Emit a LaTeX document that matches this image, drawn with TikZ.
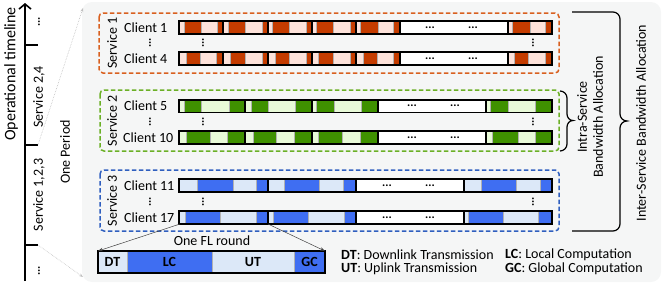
\documentclass[tikz,border=0pt]{standalone}
\usepackage{fontspec}
\setmainfont{Carlito}
\usetikzlibrary{arrows.meta}
\definecolor{odk}{HTML}{C43C00}
\definecolor{olt}{HTML}{FDE2DA}
\definecolor{odash}{HTML}{D9601F}
\definecolor{gdk}{HTML}{3F9100}
\definecolor{glt}{HTML}{E8FAD8}
\definecolor{gdash}{HTML}{6BB026}
\definecolor{bdk}{HTML}{3F6EF2}
\definecolor{blt}{HTML}{DCE8F8}
\definecolor{bdash}{HTML}{2F5FBF}
\definecolor{panelc}{HTML}{F5F6F6}
\newcommand\segrow[3]{\foreach \xa/\xb/\segc in {#3}{\filldraw[fill=\segc,draw=gray!60,line width=0.5pt] (\xa,#1) rectangle (\xb,#2);}}
\newcommand\seprow[3]{\foreach \xs in {#3}{\draw[line width=1.4pt] (\xs,#1) -- (\xs,#2);}\draw[line width=1.4pt] (179,#1) rectangle (552,#2);}
\tikzset{
  txt/.style={font=\fontsize{14}{16}\selectfont, inner sep=0pt},
  rtxt/.style={txt, rotate=90},
  legtxt/.style={txt, anchor=west},
  hdots/.style={font=\bfseries\fontsize{12}{12}\selectfont, inner sep=0pt},
  vdots/.style={hdots, rotate=90},
  svcbox/.style={dashed, dash pattern=on 4.5pt off 2.5pt, line width=1.5pt, rounded corners=4pt},
  brace/.style={line width=1.2pt},
  zoomarrow/.style={-{Stealth[length=5pt,width=3.5pt]}, black!75, line width=0.5pt},
  perarrow/.style={-{Stealth[length=4pt,width=3pt]}, gray!50, densely dotted, line width=0.6pt},
}
\begin{document}
\begin{tikzpicture}[x=1pt,y=-1pt]
\useasboundingbox (0,0) rectangle (664,284);
% panel
\fill[panelc, rounded corners=10pt] (82,2) rectangle (661,282);
% timeline
\coordinate (tb) at (25,281);
\coordinate (tt) at (25,3);
\draw[line width=1.6pt, -{Straight Barb[length=5pt,width=12pt]}] (tb) -- (tt);
\coordinate (t1) at (38,45);
\coordinate (t2) at (38,145);
\coordinate (t3) at (38,245);
\draw[line width=1.6pt] (25,45) -- (t1);
\draw[line width=1.6pt] (25,145) -- (t2);
\draw[line width=1.6pt] (25,245) -- (t3);
\node[vdots] (tdots1) at (39,22) {...};
\node[vdots] (tdots2) at (39,271) {...};
\node[rtxt, font=\fontsize{16}{18}\selectfont] (optl) at (11,74) {Operational timeline};
\node[rtxt] (s24) at (39,97) {Service 2,4};
\node[rtxt] (s123) at (39,195) {Service 1,2,3};
\node[rtxt] (oneper) at (65,152) {One Period};
\coordinate (pa) at (83,8);
\coordinate (pb) at (83,277);
\draw[perarrow] (t2) -- (pa);
\draw[perarrow] (t3) -- (pb);

% service boxes
\draw[svcbox, odash] (99,13) rectangle (559,73);
\draw[svcbox, gdash] (100,90) rectangle (559,151);
\draw[svcbox, bdash] (100,170) rectangle (559,231);
\node[rtxt] (sv1) at (112,43) {Service 1};
\node[rtxt] (sv2) at (112,120.5) {Service 2};
\node[rtxt] (sv3) at (112,200.5) {Service 3};

% client labels
\node[txt, anchor=west] (c1) at (124,27.5) {Client 1};
\node[txt, anchor=west] (c4) at (124,58.5) {Client 4};
\node[txt, anchor=west] (c5) at (124,106) {Client 5};
\node[txt, anchor=west] (c10) at (123,137.5) {Client 10};
\node[txt, anchor=west] (c11) at (124,185.5) {Client 11};
\node[txt, anchor=west] (c17) at (124,217.5) {Client 17};
\foreach \yy/\nm in {43/a,122/b,202/c}{
  \node[vdots] (dl\nm) at (150,\yy) {...};
  \node[vdots] (dm\nm) at (203,\yy) {...};
  \node[vdots] (dr\nm) at (533,\yy) {...};
}

% Service 1 rows
\segrow{21}{34}{179/184/olt,184/201/odk,201/217/olt,217/223/odk,
223/228/olt,228/245/odk,245/262/olt,262/268/odk,
268/272/olt,272/289/odk,289/306/olt,306/312/odk,
312/316/olt,316/333/odk,333/350/olt,350/356/odk,
356/360/olt,360/378/odk,378/393/olt,393/400/odk,
400/508/white,
508/512/olt,512/530/odk,530/545/olt,545/552/odk}
\seprow{21}{34}{223,268,312,356,400,508}
\segrow{52}{65}{179/186/olt,186/200/odk,200/216/olt,216/223/odk,
223/230/olt,230/245/odk,245/262/olt,262/268/odk,
268/275/olt,275/289/odk,289/306/olt,306/312/odk,
312/318/olt,318/333/odk,333/350/olt,350/356/odk,
356/363/olt,363/377/odk,377/393/olt,393/400/odk,
400/508/white,
508/514/olt,514/528/odk,528/545/olt,545/552/odk}
\seprow{52}{65}{223,268,312,356,400,508}
\foreach \yy in {27.5,58.5}{
  \node[hdots] at (430,\yy) {...};
  \node[hdots] at (473,\yy) {...};
}

% Service 2 rows
\segrow{100}{112.5}{179/184/glt,184/201/gdk,201/229/glt,229/245/gdk,
245/251/glt,251/268/gdk,268/295/glt,295/312/gdk,
312/316/glt,316/334/gdk,334/361/glt,361/378/gdk,
378/486/white,
486/490/glt,490/508/gdk,508/535/glt,535/552/gdk}
\seprow{100}{112.5}{245,312,378,486}
\segrow{131}{144}{179/186/glt,186/210/gdk,210/227/glt,227/245/gdk,
245/253/glt,253/276/gdk,276/294/glt,294/312/gdk,
312/318/glt,318/342/gdk,342/360/glt,360/378/gdk,
378/486/white,
486/492/glt,492/518/gdk,518/535/glt,535/552/gdk}
\seprow{131}{144}{245,312,378,486}
\foreach \yy in {106,137.5}{
  \node[hdots] at (412,\yy) {...};
  \node[hdots] at (455,\yy) {...};
}

% Service 3 rows
\segrow{179}{192}{179/197/blt,197/233/bdk,233/256/blt,256/268/bdk,
268/284/blt,284/319/bdk,319/343/blt,343/356/bdk,
356/464/white,
464/481/blt,481/516/bdk,516/540/blt,540/552/bdk}
\seprow{179}{192}{268,356,464}
\segrow{211}{224}{179/185/blt,185/220/bdk,220/256/blt,256/268/bdk,
268/273/blt,273/308/bdk,308/344/blt,344/356/bdk,
356/464/white,
464/468/blt,468/503/bdk,503/538/blt,538/552/bdk}
\seprow{211}{224}{268,356,464}
\foreach \yy in {185.5,217.5}{
  \node[hdots] at (387,\yy) {...};
  \node[hdots] at (430,\yy) {...};
}

% expanded FL round
\segrow{251}{273}{98/127/blt,127/212/bdk,212/294/blt,294/325/bdk}
\draw[line width=1.4pt] (98,251) rectangle (325,273);
\node[txt, font=\bfseries\fontsize{14}{16}\selectfont] (dt) at (112.5,262) {DT};
\node[txt, font=\bfseries\fontsize{14}{16}\selectfont] (lc) at (169.5,262) {LC};
\node[txt, font=\bfseries\fontsize{14}{16}\selectfont] (ut) at (253,262) {UT};
\node[txt, font=\bfseries\fontsize{14}{16}\selectfont] (gc) at (309.5,262) {GC};
\node[txt] (flr) at (212,241) {One FL round};
\coordinate (c17a) at (180,224);
\coordinate (c17b) at (268,224);
\coordinate (fla) at (98,251);
\coordinate (flb) at (325,251);
\draw[zoomarrow] (c17a) -- (fla);
\draw[zoomarrow] (c17b) -- (flb);

% legend
\node[legtxt] (ldt) at (341,255) {\textbf{DT}: Downlink Transmission};
\node[legtxt] (lut) at (341,269) {\textbf{UT}: Uplink Transmission};
\node[legtxt] (llc) at (505,255) {\textbf{LC}: Local Computation};
\node[legtxt] (lgc) at (505,269) {\textbf{GC}: Global Computation};

% braces
\draw[brace] (560,91) to[out=0,in=90] (567,98) -- (567,114) to[out=-90,in=180] (573,120.5) to[out=180,in=90] (567,127) -- (567,144) to[out=-90,in=0] (560,151);
\draw[brace] (572,12) -- (613,12) to[out=0,in=90] (620,19) -- (620,114) to[out=-90,in=180] (627,121) to[out=180,in=90] (620,128) -- (620,224) to[out=-90,in=0] (613,231) -- (572,231);
\node[rtxt, align=center] (intra) at (590,117) {Intra-Service\\Bandwidth Allocation};
\node[rtxt] (inter) at (641,123) {Inter-Service Bandwidth Allocation};
\end{tikzpicture}
\end{document}
